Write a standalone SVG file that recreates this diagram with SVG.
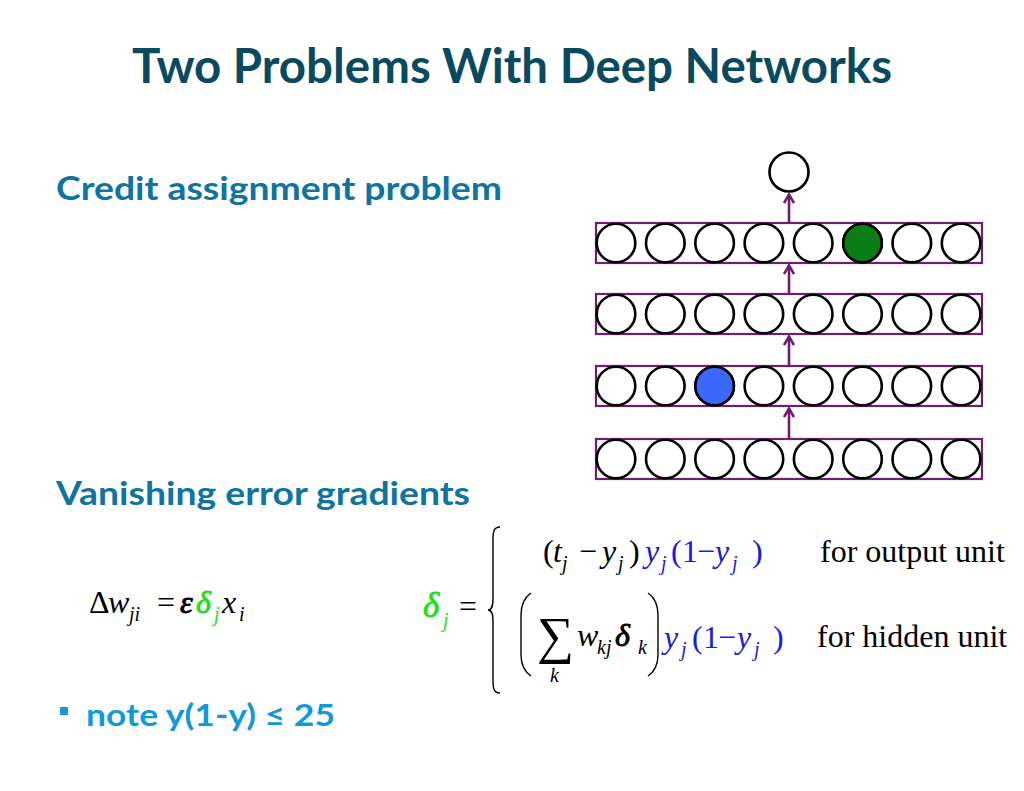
<svg xmlns="http://www.w3.org/2000/svg" width="1024" height="791" viewBox="0 0 1024 791">
<style>
.h{font-family:Lato,"Open Sans","Liberation Sans",sans-serif;font-weight:bold}
.m{font-family:"Liberation Serif","Times New Roman",serif;font-size:32px;fill:#000}
.i{font-style:italic}
.s{font-size:20px;font-style:italic}
.g{fill:#22dd22}
.b{fill:#1a1ae0}
.hv{stroke-width:0.9px}
.layer{fill:none;stroke:#6d1f6d;stroke-width:2.2}
.u{fill:#fff;stroke:#000;stroke-width:2.6}
.conn{stroke:#6d1f6d;stroke-width:2.6;fill:none}
.ln{fill:none;stroke:#000;stroke-width:1.4}
</style>
<defs>
<marker id="ah" viewBox="0 0 12 12" refX="11" refY="6" markerWidth="12" markerHeight="12" markerUnits="userSpaceOnUse" orient="auto">
<path d="M2 1 L10.5 6 L2 11" fill="none" stroke="#6d1f6d" stroke-width="2.6"/>
</marker>
<g id="row">
<circle class="u" cx="616" cy="0" r="19.3"/>
<circle class="u" cx="665.3" cy="0" r="19.3"/>
<circle class="u" cx="714.6" cy="0" r="19.3"/>
<circle class="u" cx="763.9" cy="0" r="19.3"/>
<circle class="u" cx="813.2" cy="0" r="19.3"/>
<circle class="u" cx="862.5" cy="0" r="19.3"/>
<circle class="u" cx="911.8" cy="0" r="19.3"/>
<circle class="u" cx="961.1" cy="0" r="19.3"/>
</g>
</defs>
<rect width="1024" height="791" fill="#fff"/>

<g id="title"><text class="h" x="132" y="83" font-size="47" fill="#0a4a5f" textLength="760" lengthAdjust="spacingAndGlyphs">Two Problems With Deep Networks</text></g>
<g id="credit"><text class="h" x="56" y="200" font-size="33" fill="#0f74a0" textLength="446" lengthAdjust="spacingAndGlyphs">Credit assignment problem</text></g>
<g id="vanishing"><text class="h" x="56" y="505" font-size="33" fill="#0f74a0" textLength="414" lengthAdjust="spacingAndGlyphs">Vanishing error gradients</text></g>
<g id="note">
<rect x="60" y="707" width="8" height="8" fill="#1399d8"/>
<text class="h" x="86" y="726" font-size="31" fill="#1399d8" textLength="249" lengthAdjust="spacingAndGlyphs">note y(1-y) ≤ 25</text>
</g>

<g id="network">
<g id="top-unit"><circle class="u" cx="789" cy="172" r="19.5"/></g>
<g id="layer1">
<rect class="layer" x="596" y="223" width="386" height="40"/>
<use href="#row" y="243"/>
<circle cx="862.5" cy="243" r="19.3" fill="#0a7d14" stroke="#000" stroke-width="2.6"/>
</g>
<g id="layer2">
<rect class="layer" x="596" y="294" width="386" height="40"/>
<use href="#row" y="314"/>
</g>
<g id="layer3">
<rect class="layer" x="596" y="366" width="386" height="40"/>
<use href="#row" y="386"/>
<circle cx="714.6" cy="386" r="19.3" fill="#3b68fa" stroke="#000" stroke-width="2.6"/>
</g>
<g id="layer4">
<rect class="layer" x="596" y="439" width="386" height="40"/>
<use href="#row" y="459"/>
</g>
</g>

<g id="connectors">
<line class="conn" x1="789" y1="223" x2="789" y2="194" marker-end="url(#ah)"/>
<line class="conn" x1="789" y1="294" x2="789" y2="265" marker-end="url(#ah)"/>
<line class="conn" x1="789" y1="366" x2="789" y2="336" marker-end="url(#ah)"/>
<line class="conn" x1="789" y1="439" x2="789" y2="408" marker-end="url(#ah)"/>
</g>

<g id="weight-update">
<text class="m" y="613"><tspan x="89">Δ</tspan><tspan class="i" x="108">w</tspan><tspan class="s" x="129" y="621">ji</tspan><tspan x="157" y="613">=</tspan><tspan class="i hv" x="180" stroke="#000">ε</tspan><tspan class="i g hv" x="196" stroke="#22dd22">δ</tspan><tspan class="s g" x="214" y="621">j</tspan><tspan class="i" x="222" y="613">x</tspan><tspan class="s" x="239" y="621">i</tspan></text>
</g>

<g id="delta-def">
<text class="m" y="617"><tspan class="i g hv" x="423" font-size="35" stroke="#22dd22">δ</tspan><tspan class="s g" x="443" y="627">j</tspan><tspan x="459" y="617">=</tspan></text>
<path class="ln" d="M500 527 C494 527 493 531 493 540 L493 598 C493 606 492 610 488 610 C492 610 493 614 493 622 L493 680 C493 689 494 693 500 693"/>
<text class="m" y="562"><tspan x="543">(</tspan><tspan class="i" x="553">t</tspan><tspan class="s" x="562" y="570">j</tspan><tspan x="579" y="562">−</tspan><tspan class="i" x="602">y</tspan><tspan class="s" x="618" y="570">j</tspan><tspan x="629" y="562">)</tspan><tspan class="i b" x="645">y</tspan><tspan class="s b" x="661" y="570">j</tspan><tspan class="b" x="671" y="562">(</tspan><tspan class="b" x="682">1</tspan><tspan class="b" x="697">−</tspan><tspan class="i b" x="715">y</tspan><tspan class="s b" x="732" y="570">j</tspan><tspan class="b" x="752" y="562">)</tspan></text>
<text class="m" x="820" y="562">for output unit</text>
<path class="ln" d="M531 593 Q521 600 521 615 L521 655 Q521 669 531 676"/>
<path class="ln" d="M648 593 Q658 600 658 615 L658 655 Q658 669 648 676"/>
<text class="m" y="648"><tspan x="537" y="653" font-size="52">∑</tspan><tspan class="i" x="577" y="646">w</tspan><tspan class="s" x="597" y="654">kj</tspan><tspan class="i hv" x="615" y="646" stroke="#000">δ</tspan><tspan class="s" x="638" y="654">k</tspan></text>
<text class="s" x="550" y="682" font-family="Liberation Serif,serif">k</text>
<text class="m" y="648"><tspan class="i b" x="664">y</tspan><tspan class="s b" x="681" y="656">j</tspan><tspan class="b" x="692" y="648">(</tspan><tspan class="b" x="703">1</tspan><tspan class="b" x="718">−</tspan><tspan class="i b" x="737">y</tspan><tspan class="s b" x="754" y="656">j</tspan><tspan class="b" x="773" y="648">)</tspan></text>
<text class="m" x="817" y="647">for hidden unit</text>
</g>
</svg>
